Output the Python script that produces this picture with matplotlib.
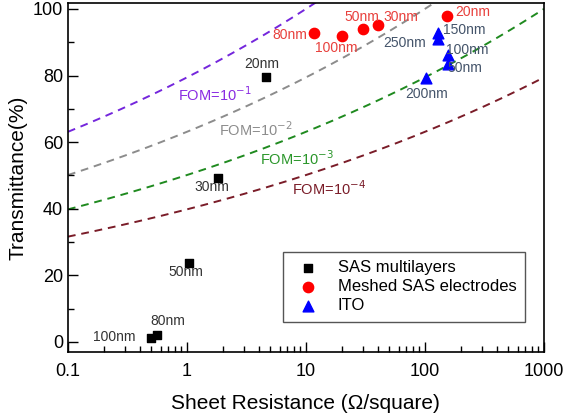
import numpy as np
import matplotlib.pyplot as plt
from matplotlib.ticker import FixedLocator, NullFormatter

## Transmittance vs sheet resistance with Haacke FOM reference lines

plt.rcParams['font.family'] = ['Liberation Sans', 'DejaVu Sans']

# SAS multilayers
sas_rs = [4.6, 1.83, 1.04, 0.556, 0.495]
sas_t = [79.5, 49.3, 23.6, 2.1, 1.3]
sas_lbl = ["20nm", "30nm", "50nm", "80nm", "100nm"]

# Meshed SAS electrodes
mesh_rs = [153, 40.5, 30.3, 20.2, 11.8]
mesh_t = [97.9, 95.1, 93.9, 92.0, 92.7]
mesh_lbl = ["20nm", "30nm", "50nm", "100nm", "80nm"]

# ITO
ito_rs = [128, 128, 155, 155, 103]
ito_t = [92.7, 90.9, 86.2, 83.5, 79.2]
ito_lbl = ["150nm", "250nm", "100nm", "50nm", "200nm"]

# figure of merit lines (T^10 / Rs)
fom_vals = [1e-1, 1e-2, 1e-3, 1e-4]
fom_lbl = ["FOM=10$^{-1}$", "FOM=10$^{-2}$", "FOM=10$^{-3}$", "FOM=10$^{-4}$"]
fom_colors = ['#7426dc', '#8c8c8c', '#1f8a1f', '#7a1c28']
fom_text_colors = ['#8a2be2', '#8c8c8c', '#2a962a', '#7a1c28']
fom_text_pos = [(0.84, 74.2), (1.86, 63.7), (4.1, 55.0), (7.6, 45.9)]

# label offsets in pixels (layout only)
sas_off = [(-4, 13, 'center'), (-6, -9, 'center'), (-3, -9, 'center'), (11, 14, 'center'), (-15, 1, 'right')]
mesh_off = [(8, 4, 'left'), (5, 8, 'left'), (-1, 12, 'center'), (-6, -12, 'center'), (-7, -2, 'right')]
ito_off = [(5, 3, 'left'), (-12, -4, 'right'), (-2, 5, 'left'), (0, -4, 'left'), (0, -16, 'center')]

fig = plt.figure(figsize=(5.66, 4.18), dpi=100)
ax = fig.add_axes([0.120, 0.158, 0.841, 0.835])

rs = np.logspace(-1, 3, 300)
for fom, c in zip(fom_vals, fom_colors):
    ax.plot(rs, 100 * (fom * rs) ** 0.1, ls=(0, (4, 3)), color=c, lw=1.4, zorder=1)
for txt, c, (px, py) in zip(fom_lbl, fom_text_colors, fom_text_pos):
    ax.text(px, py, txt, color=c, fontsize=10.5, ha='left', va='center')

ax.scatter(sas_rs, sas_t, marker='s', s=36, color='black', label='SAS multilayers', zorder=3)
ax.scatter(mesh_rs, mesh_t, marker='o', s=55, color='#ff0000', label='Meshed SAS electrodes', zorder=3)
ax.scatter(ito_rs, ito_t, marker='^', s=60, color='#0000ff', label='ITO', zorder=3)

def put_labels(xs, ys, labels, offs, color):
    for x, y, t, (dx, dy, ha) in zip(xs, ys, labels, offs):
        ax.annotate(t, (x, y), xytext=(dx, dy), textcoords='offset pixels',
                    ha=ha, va='center', fontsize=10, color=color)

put_labels(sas_rs, sas_t, sas_lbl, sas_off, '#333333')
put_labels(mesh_rs, mesh_t, mesh_lbl, mesh_off, '#e8403c')
put_labels(ito_rs, ito_t, ito_lbl, ito_off, '#44546a')

ax.set_xscale('log')
ax.set_xlim(0.1, 1000)
ax.set_ylim(-3, 101.8)
ax.set_xticks([0.1, 1, 10, 100, 1000])
ax.set_xticklabels(['0.1', '1', '10', '100', '1000'])
ax.xaxis.set_minor_formatter(NullFormatter())
ax.set_yticks([0, 20, 40, 60, 80, 100])
ax.yaxis.set_minor_locator(FixedLocator([10, 30, 50, 70, 90]))
ax.tick_params(which='both', direction='in', top=False, right=False, labelsize=13, colors='black')
ax.tick_params(which='major', length=7, width=1)
ax.tick_params(which='minor', length=4, width=1)
ax.tick_params(axis='x', pad=8)
for sp in ax.spines.values():
    sp.set_linewidth(1.2)

ax.set_xlabel('Sheet Resistance (\u03a9/square)', fontsize=15, labelpad=10)
ax.set_ylabel('Transmittance(%)', fontsize=15, labelpad=4)

leg = ax.legend(loc='lower right', bbox_to_anchor=(0.977, 0.063), fontsize=12,
                fancybox=False, edgecolor='#555555', framealpha=1,
                handletextpad=0.8, borderpad=0.5, labelspacing=0.25)
leg.get_frame().set_linewidth(1.0)

fig.savefig('out.png', dpi=100)
